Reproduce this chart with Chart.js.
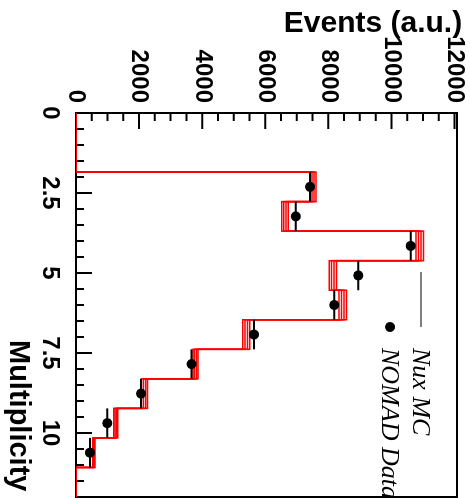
<!DOCTYPE html>
<html>
<head>
<meta charset="utf-8">
<title>Multiplicity</title>
<script src="https://cdn.jsdelivr.net/npm/chart.js@4.4.1/dist/chart.umd.min.js"></script>
<style>
  html, body { margin: 0; padding: 0; background: #fff; overflow: hidden; }
  /* the plot is drawn upright and turned a quarter clockwise */
  #wrap {
    position: absolute; left: 0; top: 0;
    width: 498px; height: 470px;
    transform-origin: 0 0;
    transform: translate(470px, 0) rotate(90deg);
  }
</style>
</head>
<body>
<div id="wrap"><canvas id="multChart" width="498" height="470"></canvas></div>
<script>
// binning of the histogram: 13 bins from 0 to 12
const nBins = 13;
const multMin = 0;
const multMax = 12;
const eventsMax = 12080;

// Nux MC, several variations drawn as a band (events per bin)
const mcVar1 = [0, 0, 7420, 6520, 10780, 8030, 8340, 5290, 3710, 2080, 1200, 530, 0];
const mcVar2 = [0, 0, 7480, 6590, 10860, 8100, 8420, 5360, 3760, 2140, 1240, 550, 0];
const mcVar3 = [0, 0, 7550, 6660, 10940, 8180, 8500, 5440, 3820, 2210, 1280, 580, 0];
const mcVar4 = [0, 0, 7610, 6730, 11020, 8260, 8580, 5510, 3870, 2270, 1320, 600, 0];

// NOMAD data: bin index and events
const dataBins = [2, 3, 4, 5, 6, 7, 8, 9, 10, 11];
const dataEvents = [7420, 6970, 10610, 8950, 8190, 5640, 3660, 2060, 990, 440];

const multTicks = [0, 2.5, 5, 7.5, 10];
const eventTicks = [0, 2000, 4000, 6000, 8000, 10000, 12000];

const binW = (multMax - multMin) / nBins;

function stepPoints(values) {
    const pts = [];
    values.forEach((v, i) => {
        pts.push({x: multMin + i * binW, y: v});
        pts.push({x: multMin + (i + 1) * binW, y: v});
    });
    return pts;
}

const dataPoints = dataBins.map((b, i) => ({x: multMin + (b + 0.5) * binW, y: dataEvents[i]}));
const dataErrors = [];
dataBins.forEach((b, i) => {
    dataErrors.push({x: multMin + b * binW, y: dataEvents[i]});
    dataErrors.push({x: multMin + (b + 1) * binW, y: dataEvents[i]});
    dataErrors.push({x: multMin + (b + 1) * binW, y: null});
});

function mcLine(values) {
    return {
        data: stepPoints(values),
        showLine: true,
        borderColor: '#ff0000',
        borderWidth: 1.5,
        pointRadius: 0,
        fill: false
    };
}

const tickFont = {family: '"Liberation Sans", Arial, sans-serif', size: 24, weight: 'bold'};

// keep the frame where ROOT puts it: no extra room for label overhang
function noPad(s) {
    s.paddingTop = 0;
    s.paddingBottom = 0;
    s.paddingLeft = 0;
    s.paddingRight = 0;
}

const rootStyle = {
    id: 'rootStyle',
    beforeDatasetsDraw(chart) {
        const {ctx, chartArea: a, scales: {x, y}} = chart;
        ctx.save();
        ctx.strokeStyle = '#000';
        ctx.lineWidth = 2;
        ctx.strokeRect(a.left, a.top, a.right - a.left, a.bottom - a.top);
        ctx.beginPath();
        // ticks inside the frame, bottom axis
        for (let v = 0.5; v < multMax; v += 0.5) {
            const px = x.getPixelForValue(v);
            const len = (v % 2.5 === 0) ? 16 : 8;
            ctx.moveTo(px, a.bottom);
            ctx.lineTo(px, a.bottom - len);
        }
        // left axis
        for (let v = 500; v <= 12000; v += 500) {
            const py = y.getPixelForValue(v);
            const len = (v % 2000 === 0) ? 16 : 8;
            ctx.moveTo(a.left, py);
            ctx.lineTo(a.left + len, py);
        }
        ctx.stroke();
        ctx.restore();
    },
    afterDraw(chart) {
        const ctx = chart.ctx;
        ctx.save();
        ctx.fillStyle = '#000';
        ctx.font = 'bold 29px "Liberation Sans", Arial, sans-serif';
        ctx.textBaseline = 'alphabetic';
        ctx.textAlign = 'left';
        ctx.fillText('Multiplicity', 340, 460);

        ctx.save();
        ctx.font = 'bold 30px "Liberation Sans", Arial, sans-serif';
        ctx.translate(32, 97);
        ctx.rotate(-Math.PI / 2);
        ctx.textAlign = 'center';
        ctx.fillText('Events (a.u.)', 0, 0);
        ctx.restore();

        // legend
        ctx.strokeStyle = '#000';
        ctx.lineWidth = 1;
        ctx.beginPath();
        ctx.moveTo(272, 49);
        ctx.lineTo(327, 49);
        ctx.stroke();
        ctx.beginPath();
        ctx.arc(327, 80, 5, 0, Math.PI * 2);
        ctx.fill();
        ctx.font = 'italic 26px "Liberation Serif", "Times New Roman", serif';
        ctx.textAlign = 'left';
        ctx.fillText('Nux MC', 348, 57);
        ctx.fillText('NOMAD Data', 348, 88);
        ctx.restore();
    }
};

new Chart(document.getElementById('multChart').getContext('2d'), {
    type: 'scatter',
    data: {
        datasets: [
            {
                data: dataPoints,
                backgroundColor: '#000',
                borderColor: '#000',
                pointRadius: 5,
                pointBorderWidth: 0
            },
            {
                data: dataErrors,
                showLine: true,
                spanGaps: false,
                borderColor: '#000',
                borderWidth: 2,
                pointRadius: 0
            },
            mcLine(mcVar1),
            mcLine(mcVar2),
            mcLine(mcVar3),
            mcLine(mcVar4)
        ]
    },
    options: {
        responsive: false,
        animation: false,
        devicePixelRatio: 1,
        layout: {autoPadding: false, padding: {top: 13, right: 1, left: 0, bottom: 0}},
        plugins: {
            legend: {display: false},
            tooltip: {enabled: false}
        },
        scales: {
            x: {
                type: 'linear',
                min: multMin,
                max: multMax,
                grid: {display: false, drawTicks: false},
                border: {display: false},
                afterBuildTicks: s => { s.ticks = multTicks.map(v => ({value: v})); },
                afterFit: s => { s.height = 76; noPad(s); },
                ticks: {
                    color: '#000',
                    font: tickFont,
                    padding: 12,
                    maxRotation: 0,
                    autoSkip: false,
                    callback: v => String(v)
                }
            },
            y: {
                type: 'linear',
                min: 0,
                max: eventsMax,
                grid: {display: false, drawTicks: false},
                border: {display: false},
                afterBuildTicks: s => { s.ticks = eventTicks.map(v => ({value: v})); },
                afterFit: s => { s.width = 113; noPad(s); },
                ticks: {
                    color: '#000',
                    font: tickFont,
                    padding: 10,
                    autoSkip: false,
                    callback: v => String(v)
                }
            }
        }
    },
    plugins: [rootStyle]
});
</script>
</body>
</html>
